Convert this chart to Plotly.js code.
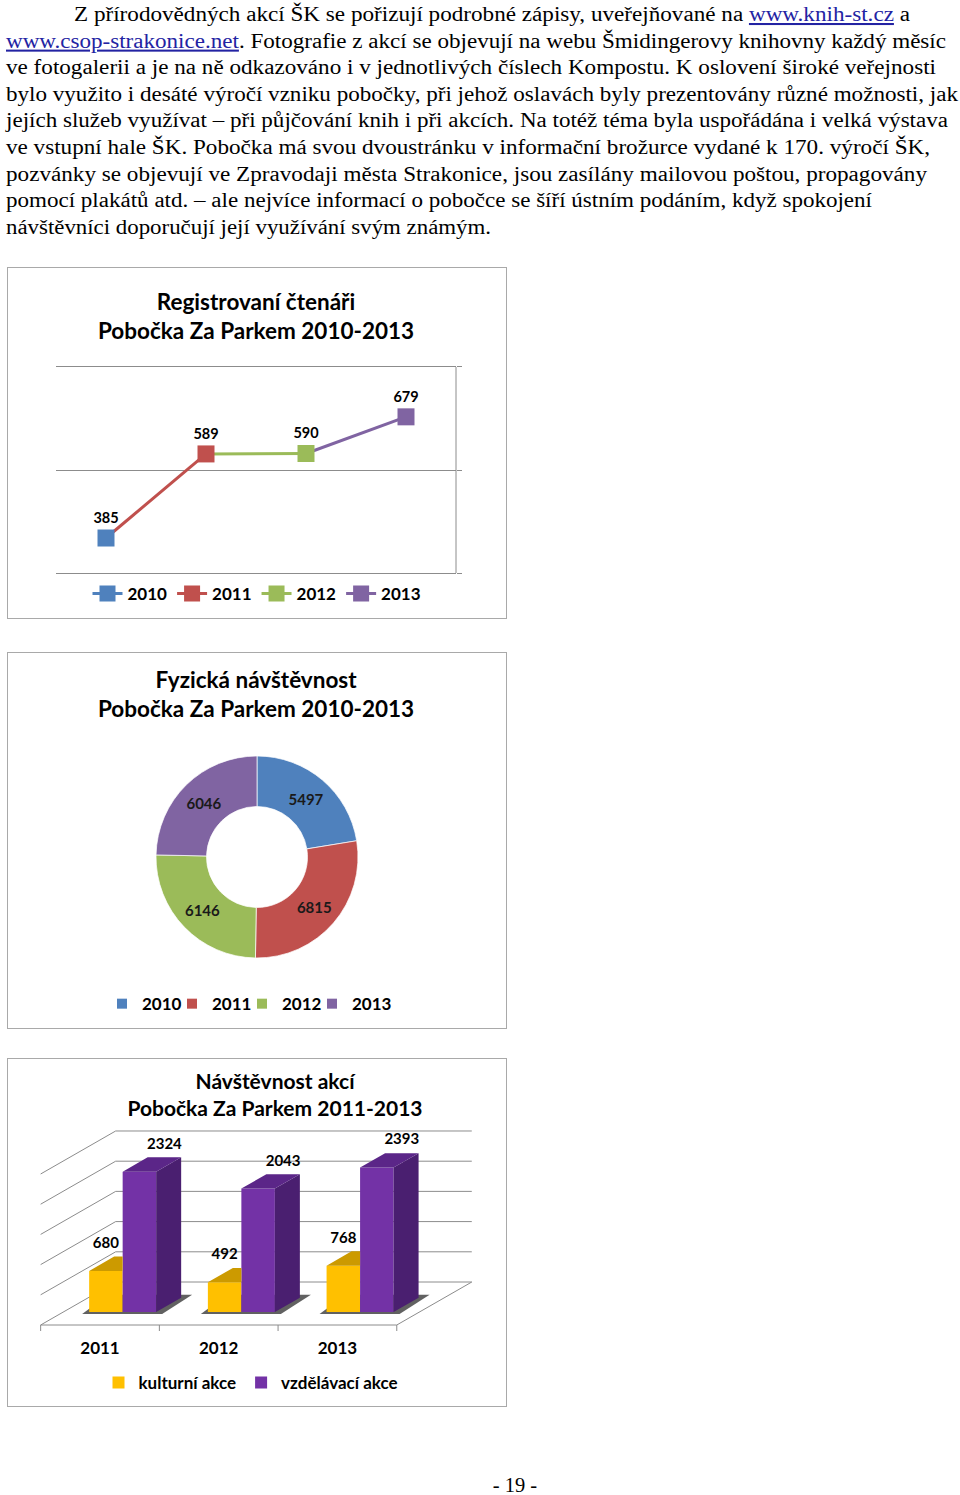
<!DOCTYPE html>
<html><head><meta charset="utf-8">
<script src="https://cdn.plot.ly/plotly-3.0.1.min.js"></script>
<style>
html,body{margin:0;padding:0;background:#fff;}
body{width:960px;height:1495px;position:relative;overflow:hidden;}
.plot{position:absolute;left:7px;width:500px;}
.frame{position:absolute;left:7px;width:500px;box-sizing:border-box;border:1px solid #a9a9a9;pointer-events:none;}
#p1,#f1{top:267px;height:352px;}
#p2,#f2{top:652px;height:377px;}
#p3,#f3{top:1058px;height:349px;}
svg text{font-family:"Liberation Serif","Times New Roman",serif;font-size:20.5px;fill:#000;}
.lnk{fill:#2323a3;text-decoration:underline;}
</style>
</head><body>
<svg width="960" height="245" style="position:absolute;left:0;top:0">
<text x="74" y="21" textLength="836" lengthAdjust="spacingAndGlyphs">Z přírodovědných akcí ŠK se pořizují podrobné zápisy, uveřejňované na <tspan class="lnk">www.knih-st.cz</tspan> a</text>
<text x="6" y="47.6" textLength="940" lengthAdjust="spacingAndGlyphs"><tspan class="lnk">www.csop-strakonice.net</tspan>. Fotografie z akcí se objevují na webu Šmidingerovy knihovny každý měsíc</text>
<text x="6" y="74.2" textLength="930" lengthAdjust="spacingAndGlyphs">ve fotogalerii a je na ně odkazováno i v jednotlivých číslech Kompostu. K oslovení široké veřejnosti</text>
<text x="6" y="100.8" textLength="952" lengthAdjust="spacingAndGlyphs">bylo využito i desáté výročí vzniku pobočky, při jehož oslavách byly prezentovány různé možnosti, jak</text>
<text x="6" y="127.4" textLength="942" lengthAdjust="spacingAndGlyphs">jejích služeb využívat – při půjčování knih i při akcích. Na totéž téma byla uspořádána i velká výstava</text>
<text x="6" y="154" textLength="924" lengthAdjust="spacingAndGlyphs">ve vstupní hale ŠK. Pobočka má svou dvoustránku v informační brožurce vydané k 170. výročí ŠK,</text>
<text x="6" y="180.6" textLength="921" lengthAdjust="spacingAndGlyphs">pozvánky se objevují ve Zpravodaji města Strakonice, jsou zasílány mailovou poštou, propagovány</text>
<text x="6" y="207.2" textLength="866" lengthAdjust="spacingAndGlyphs">pomocí plakátů atd. – ale nejvíce informací o pobočce se šíří ústním podáním, když spokojení</text>
<text x="6" y="233.8" textLength="485" lengthAdjust="spacingAndGlyphs">návštěvníci doporučují její využívání svým známým.</text>
</svg>
<svg width="960" height="60" style="position:absolute;left:0;top:1440px">
<text x="515" y="52" text-anchor="middle">- 19 -</text>
</svg>
<div id="p1" class="plot"></div>
<div id="p2" class="plot"></div>
<div id="p3" class="plot"></div>
<div id="f1" class="frame"></div>
<div id="f2" class="frame"></div>
<div id="f3" class="frame"></div>
<script>
// ---------- DATA ----------
const regYears = ['2010', '2011', '2012', '2013'];
const regValues = [385, 589, 590, 679];
const regGridTicks = [300, 550, 800];

const visitYears = ['2010', '2011', '2012', '2013'];
const visitValues = [5497, 6815, 6146, 6046];

const actYears = ['2011', '2012', '2013'];
const kulturniAkce = [680, 492, 768];
const vzdelavaciAkce = [2324, 2043, 2393];
const actGridTicks = [0, 500, 1000, 1500, 2000, 2500];

// ---------- STYLE ----------
const YEAR_COLORS = ['#4F81BD', '#C0504D', '#9BBB59', '#8064A2'];
const FONT = 'Lato, "Open Sans", sans-serif';
const GRID = '#8c8c8c';
const CFG = {staticPlot: true, displayModeBar: false};

// ---------- CHART 1: line ----------
const t1 = [];
for (let i = 1; i < regYears.length; i++) {
  t1.push({type: 'scatter', x: [regYears[i - 1], regYears[i]], y: [regValues[i - 1], regValues[i]],
    mode: 'lines', line: {color: YEAR_COLORS[i], width: 3}, showlegend: false, hoverinfo: 'skip'});
}
for (let i = 0; i < regYears.length; i++) {
  t1.push({type: 'scatter', x: [regYears[i]], y: [regValues[i]], name: regYears[i], mode: 'lines+markers',
    line: {color: YEAR_COLORS[i], width: 3}, marker: {symbol: 'square', size: 17, color: YEAR_COLORS[i]}});
}
t1.push({type: 'scatter', x: regYears, y: regValues, mode: 'markers+text', text: regValues.map(String),
  textposition: 'top center', marker: {size: 17, opacity: 0}, showlegend: false, cliponaxis: false,
  textfont: {family: FONT, size: 14.5, color: '#000', weight: 'bold'}});

const R1_PAD = 3 / (208.6 / (regGridTicks[regGridTicks.length - 1] - regGridTicks[0]));
Plotly.newPlot('p1', t1, {
  width: 500, height: 352, margin: {l: 49, r: 51, t: 97, b: 41},
  paper_bgcolor: 'rgba(0,0,0,0)', plot_bgcolor: 'rgba(0,0,0,0)',
  title: {text: 'Registrovaní čtenáři<br>Pobočka Za Parkem 2010-2013',
    font: {family: FONT, size: 22.5, color: '#000', weight: 'bold'},
    xref: 'container', x: 0.498, xanchor: 'center', yref: 'container', y: 0.878, yanchor: 'top'},
  xaxis: {type: 'category', range: [-0.5, 3.5], showgrid: false, zeroline: false, showline: false,
    showticklabels: false, ticks: ''},
  yaxis: {range: [regGridTicks[0] - R1_PAD, regGridTicks[regGridTicks.length - 1] + R1_PAD],
    tickvals: regGridTicks, showgrid: true, gridcolor: GRID, gridwidth: 1,
    zeroline: false, side: 'right', showline: false, ticks: 'outside',
    ticklen: 5, tickcolor: GRID, showticklabels: false},
  shapes: [{type: 'line', xref: 'paper', yref: 'y', x0: 1, x1: 1,
    y0: regGridTicks[0], y1: regGridTicks[regGridTicks.length - 1], line: {color: GRID, width: 1}}],
  showlegend: true,
  legend: {orientation: 'h', xref: 'container', yref: 'container', x: 0.5, xanchor: 'center',
    y: 0.071, yanchor: 'middle', font: {family: FONT, size: 17, color: '#000', weight: 'bold'},
    bgcolor: 'rgba(0,0,0,0)'}
}, CFG);

// ---------- CHART 2: doughnut ----------
const t2 = [{
  type: 'pie', labels: visitYears, values: visitValues, text: visitValues.map(String),
  textinfo: 'text', textposition: 'inside', insidetextorientation: 'horizontal',
  hole: 0.5, sort: false, direction: 'clockwise', rotation: 0, showlegend: false,
  marker: {colors: YEAR_COLORS, line: {color: 'rgba(255,255,255,0.7)', width: 1}},
  textfont: {family: FONT, size: 15, color: '#1a1a1a', weight: 'bold'},
  domain: {x: [0.298, 0.702], y: [0.0642, 0.682]}, hoverinfo: 'skip'
}];
// compact legend entries (one per slice, same colours)
visitYears.forEach((yr, i) => {
  t2.push({type: 'scatter', x: [null], y: [null], mode: 'markers', name: yr,
    marker: {symbol: 'square', size: 10, color: YEAR_COLORS[i]},
    legendwidth: i < visitYears.length - 1 ? 25 : 45, hoverinfo: 'skip'});
});
Plotly.newPlot('p2', t2, {
  width: 500, height: 377, margin: {l: 0, r: 0, t: 0, b: 50},
  paper_bgcolor: 'rgba(0,0,0,0)', plot_bgcolor: 'rgba(0,0,0,0)',
  xaxis: {visible: false}, yaxis: {visible: false},
  title: {text: 'Fyzická návštěvnost<br>Pobočka Za Parkem 2010-2013',
    font: {family: FONT, size: 22.5, color: '#000', weight: 'bold'},
    xref: 'container', x: 0.498, xanchor: 'center', yref: 'container', y: 0.9045, yanchor: 'top'},
  showlegend: true,
  legend: {orientation: 'h', xref: 'container', yref: 'container', x: 0.19, xanchor: 'left',
    y: 0.066, yanchor: 'middle', font: {family: FONT, size: 17, color: '#000', weight: 'bold'},
    bgcolor: 'rgba(0,0,0,0)'}
}, CFG);

// ---------- CHART 3: pseudo-3D grouped columns ----------
const PX_PER_X = 118.7, PX_PER_V = 0.0604;
const FLOOR_DX = 75 / PX_PER_X, FLOOR_DY = 43 / PX_PER_V;
const FRONT_D = 0.302;
const BAR_W = 33.5 / PX_PER_X;
const BAR_DX = FLOOR_DX / 3, BAR_DY = FLOOR_DY / 3;
const nCat = actYears.length;
const gx = actYears.map((_, i) => i + FRONT_D * FLOOR_DX);
const floorFront = -FRONT_D * FLOOR_DY, floorBack = (1 - FRONT_D) * FLOOR_DY;
const LABEL_LIFT = 5 / PX_PER_V;
const px2x = p => p / PX_PER_X, px2v = p => p / PX_PER_V;

function poly(builder, n) {
  const xs = [], ys = [];
  for (let i = 0; i < n; i++) {
    const pts = builder(i);
    pts.forEach(p => { xs.push(p[0]); ys.push(p[1]); });
    xs.push(pts[0][0]); ys.push(pts[0][1]);
    xs.push(null); ys.push(null);
  }
  return {xs, ys};
}
const yTop = poly(i => {
  const xl = gx[i] - BAR_W, xr = gx[i], v = kulturniAkce[i];
  return [[xl, v], [xr, v], [xr, v + BAR_DY], [xl + BAR_DX, v + BAR_DY]];
}, nCat);
const pTop = poly(i => {
  const xl = gx[i], xr = gx[i] + BAR_W, v = vzdelavaciAkce[i];
  return [[xl, v], [xr, v], [xr + BAR_DX, v + BAR_DY], [xl + BAR_DX, v + BAR_DY]];
}, nCat);
const pSide = poly(i => {
  const xr = gx[i] + BAR_W, v = vzdelavaciAkce[i];
  return [[xr, 0], [xr, v], [xr + BAR_DX, v + BAR_DY], [xr + BAR_DX, BAR_DY]];
}, nCat);

function face(p, color) {
  return {type: 'scatter', x: p.xs, y: p.ys, mode: 'lines', fill: 'toself', fillcolor: color,
    line: {width: 0, color: color}, showlegend: false, hoverinfo: 'skip'};
}
const labelFont = {family: FONT, size: 15, color: '#000', weight: 'bold'};
const t3 = [
  {type: 'bar', name: 'kulturní akce', x: gx, y: kulturniAkce, width: BAR_W, offset: -BAR_W,
    marker: {color: '#FFC000', line: {width: 0}}, hoverinfo: 'skip'},
  {type: 'bar', name: 'vzdělávací akce', x: gx, y: vzdelavaciAkce, width: BAR_W, offset: 0,
    marker: {color: '#7332A6', line: {width: 0}}, hoverinfo: 'skip'},
  face(yTop, '#CC9A00'),
  face(pSide, '#4A1F70'),
  face(pTop, '#5B2688'),
  {type: 'scatter', mode: 'text', x: gx.map(x => x - BAR_W / 2),
    y: kulturniAkce.map(v => v + BAR_DY + LABEL_LIFT), text: kulturniAkce.map(String),
    textposition: 'top center', showlegend: false, hoverinfo: 'skip', cliponaxis: false, textfont: labelFont},
  {type: 'scatter', mode: 'text', x: gx.map(x => x + BAR_W / 2 + BAR_DX),
    y: vzdelavaciAkce.map(v => v + BAR_DY + LABEL_LIFT), text: vzdelavaciAkce.map(String),
    textposition: 'top center', showlegend: false, hoverinfo: 'skip', cliponaxis: false, textfont: labelFont}
];

const shapes3 = [];
function seg(x0, y0, x1, y1) {
  shapes3.push({type: 'line', xref: 'x', yref: 'y', x0, y0, x1, y1, layer: 'below',
    line: {color: GRID, width: 1}});
}
actGridTicks.forEach(L => {
  seg(-0.5 + FLOOR_DX, L + floorBack, nCat - 0.5 + FLOOR_DX, L + floorBack);
  seg(-0.5, L + floorFront, -0.5 + FLOOR_DX, L + floorBack);
});
seg(-0.5, floorFront, nCat - 0.5, floorFront);
seg(nCat - 0.5, floorFront, nCat - 0.5 + FLOOR_DX, floorBack);
for (let k = 0; k <= nCat; k++) seg(k - 0.5, floorFront, k - 0.5, floorFront - px2v(6));
// soft dark shadow under each column group
gx.forEach(g => {
  const xl = g - BAR_W, xr = g + BAR_W;
  const pts = [[xl - px2x(7), -px2v(2)], [xr + px2x(6), -px2v(2)],
    [xr + BAR_DX + px2x(11), BAR_DY + px2v(3)], [xl + BAR_DX - px2x(6), BAR_DY + px2v(3)]];
  shapes3.push({type: 'path', xref: 'x', yref: 'y', layer: 'below',
    path: 'M' + pts.map(p => p[0] + ',' + p[1]).join('L') + 'Z',
    fillcolor: 'rgba(30,30,30,0.7)', line: {width: 0}});
});

Plotly.newPlot('p3', t3, {
  width: 500, height: 349, margin: {l: 20, r: 20, t: 67, b: 71},
  paper_bgcolor: 'rgba(0,0,0,0)', plot_bgcolor: 'rgba(0,0,0,0)',
  barmode: 'overlay',
  title: {text: 'Návštěvnost akcí<br>Pobočka Za Parkem 2011-2013',
    font: {family: FONT, size: 21, color: '#000', weight: 'bold'},
    xref: 'container', x: 0.536, xanchor: 'center', yref: 'container', y: 0.9126, yanchor: 'top'},
  xaxis: {range: [-0.615, 3.26], tickvals: actYears.map((_, i) => i), ticktext: actYears,
    showgrid: false, zeroline: false, showline: false, ticks: '',
    tickfont: {family: FONT, size: 17, color: '#000', weight: 'bold'}},
  yaxis: {range: [-397, 3096], visible: false},
  shapes: shapes3,
  showlegend: true,
  legend: {orientation: 'h', xref: 'container', yref: 'container', x: 0.488, xanchor: 'center',
    y: 0.069, yanchor: 'middle', font: {family: FONT, size: 17, color: '#000', weight: 'bold'},
    bgcolor: 'rgba(0,0,0,0)'}
}, CFG);
</script>
</body></html>
